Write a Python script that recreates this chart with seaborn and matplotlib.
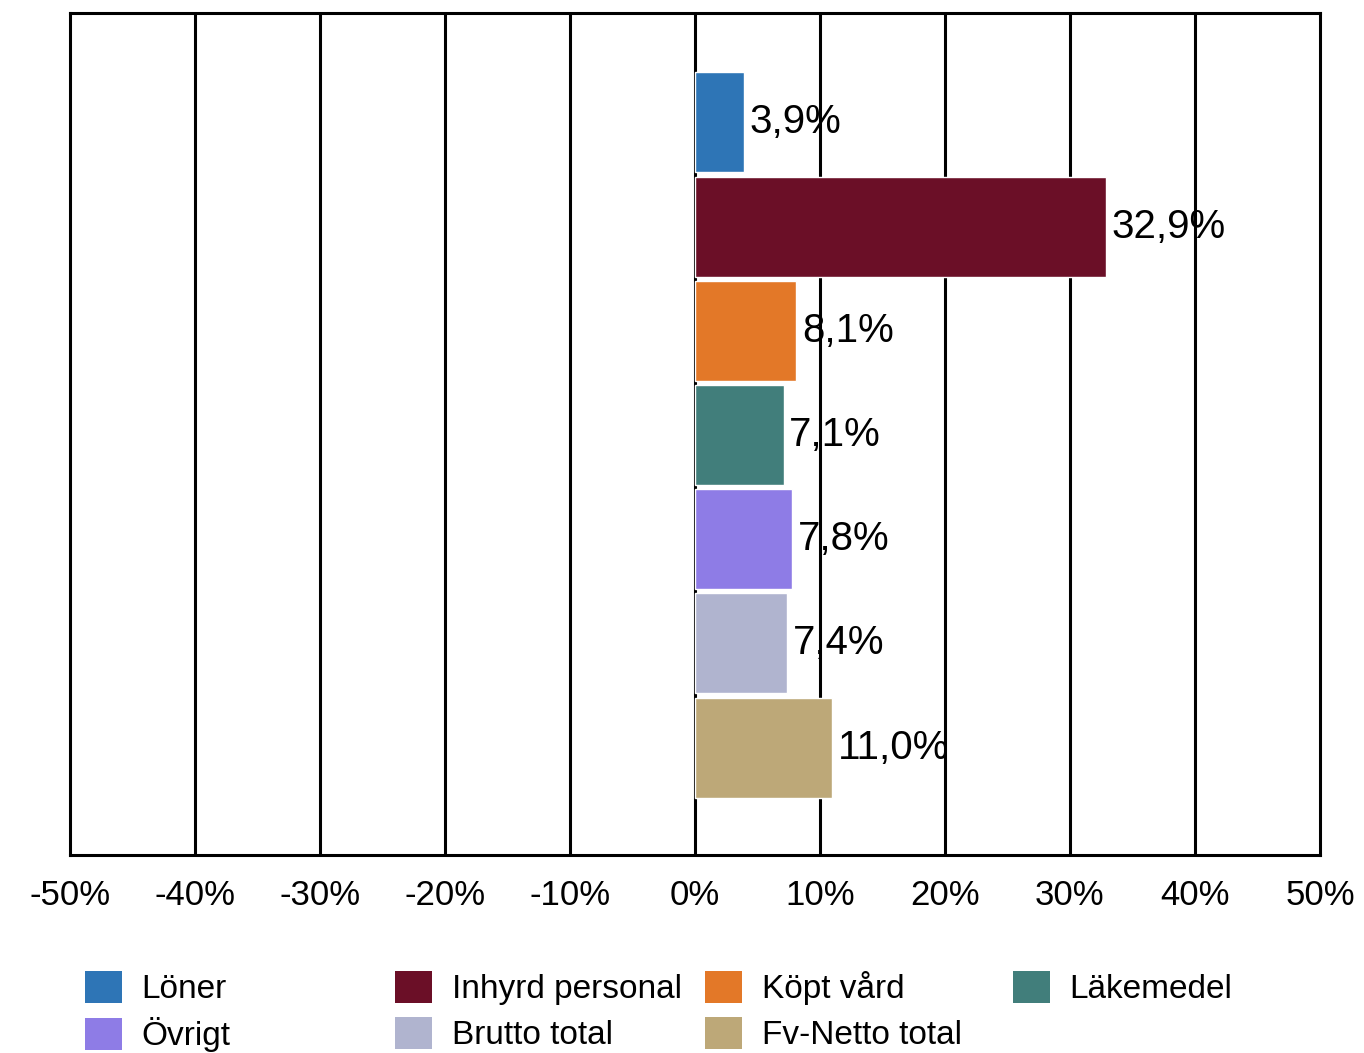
import matplotlib
matplotlib.use("Agg")
import matplotlib.pyplot as plt
from matplotlib.patches import Patch
import seaborn as sns
import pandas as pd

categories = ["Löner", "Inhyrd personal", "Köpt vård", "Läkemedel",
              "Övrigt", "Brutto total", "Fv-Netto total"]
values = [3.9, 32.9, 8.1, 7.1, 7.8, 7.4, 11.0]
colors = ["#2E75B6", "#6B0F27", "#E37828", "#417E7B",
          "#8E7CE6", "#B0B4CF", "#BDA878"]
xticks = [-50, -40, -30, -20, -10, 0, 10, 20, 30, 40, 50]
xtick_labels = ["-50%", "-40%", "-30%", "-20%", "-10%", "0%",
                "10%", "20%", "30%", "40%", "50%"]

sns.set_theme(style="white")
plt.rcParams["font.family"] = ["Liberation Sans", "DejaVu Sans"]
plt.rcParams["text.color"] = "black"
plt.rcParams["legend.labelcolor"] = "black"

df = pd.DataFrame({"kategori": categories, "andel": values})

fig = plt.figure(figsize=(13.64, 10.53), dpi=100)
ax = fig.add_axes([0.0513, 0.188, 0.9164, 0.7997])

sns.barplot(data=df, x="andel", y="kategori", hue="kategori",
            palette=dict(zip(categories, colors)), orient="h",
            width=0.96, legend=False, ax=ax, saturation=1)

ax.set_xlim(-50, 50)
ax.set_ylim(7.03, -1.05)
ax.set_xticks(xticks)
ax.set_xticklabels(xtick_labels, fontsize=25, color="black")
ax.set_yticks([])
ax.set_xlabel("")
ax.set_ylabel("")
ax.tick_params(axis="x", length=0, pad=17, colors="black")

ax.set_axisbelow(True)
for x in xticks[1:-1]:
    ax.axvline(x, color="black", lw=2.2, zorder=0)
for sp in ax.spines.values():
    sp.set_visible(True)
    sp.set_color("black")
    sp.set_linewidth(2.2)

for cont in ax.containers:
    labels = [f"{v:.1f}%".replace(".", ",") for v in cont.datavalues]
    ax.bar_label(cont, labels=labels, padding=4, fontsize=29, color="black")

# legend laid out in four fixed-width columns, two rows
handles = [Patch(facecolor=c, edgecolor="none") for c in colors]
col_x = [85 / 1364, 395 / 1364, 705 / 1364, 1013 / 1364]
columns = [[0, 4], [1, 5], [2, 6], [3]]
for cx, idx in zip(col_x, columns):
    fig.legend([handles[i] for i in idx], [categories[i] for i in idx],
               loc="upper left", bbox_to_anchor=(cx, 1 - 971 / 1053),
               frameon=False, fontsize=24, handlelength=1.1,
               handleheight=1.1, handletextpad=0.6, labelspacing=0.35,
               borderpad=0, borderaxespad=0, labelcolor="black")

fig.savefig("out.png", dpi=100, facecolor="white")
